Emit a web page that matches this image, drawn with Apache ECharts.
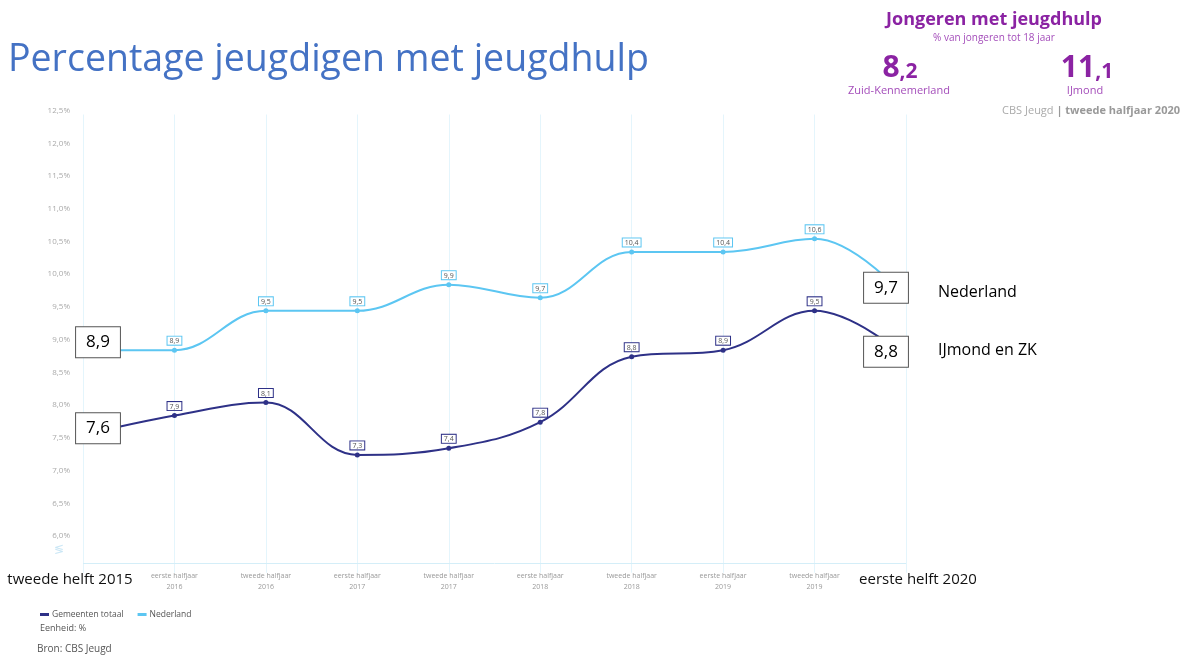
<!DOCTYPE html>
<html>
<head>
<meta charset="utf-8">
<script src="https://cdn.jsdelivr.net/npm/echarts@6/dist/echarts.min.js"></script>
<style>
html, body { margin: 0; padding: 0; background: #fff; }
#chart { width: 1189px; height: 656px; }
</style>
</head>
<body>
<div id="chart"></div>
<script>
// categorieen (halfjaren)
const categories = [
	'tweede helft 2015',
	'eerste halfjaar\n2016', 'tweede halfjaar\n2016',
	'eerste halfjaar\n2017', 'tweede halfjaar\n2017',
	'eerste halfjaar\n2018', 'tweede halfjaar\n2018',
	'eerste halfjaar\n2019', 'tweede halfjaar\n2019',
	'eerste helft 2020'
];
const nederland = [8.9, 8.9, 9.5, 9.5, 9.9, 9.7, 10.4, 10.4, 10.6, 9.7];
const gemeenten = [7.6, 7.9, 8.1, 7.3, 7.4, 7.8, 8.8, 8.9, 9.5, 8.8];
const yTicks = ['6,0%', '6,5%', '7,0%', '7,5%', '8,0%', '8,5%', '9,0%', '9,5%', '10,0%', '10,5%', '11,0%', '11,5%', '12,0%', '12,5%'];

const colNL = '#5cc6f2';
const colGem = '#2e3187';

const chart = echarts.init(document.getElementById('chart'));

function fmt(v) {
	return String(v).replace('.', ',');
}

// eerste en laatste punt krijgen een groot kader, de rest een klein label
function buildData(values, color, offFirst, offLast) {
	return values.map((v, i) => {
		if (i === 0 || i === values.length - 1) {
			return {
				value: v,
				symbolSize: 0,
				label: {
					show: true,
					position: 'inside',
					offset: i === 0 ? offFirst : offLast,
					formatter: fmt(v),
					fontSize: 17,
					fontFamily: 'Open Sans',
					color: '#000',
					backgroundColor: '#fff',
					borderColor: '#555',
					borderWidth: 1,
					padding: [7, 10, 6, 10]
				}
			};
		}
		return {
			value: v,
			label: {
				show: true,
				position: 'top',
				distance: 3,
				formatter: fmt(v),
				fontSize: 7,
				fontFamily: 'Open Sans',
				color: '#555',
				backgroundColor: '#fff',
				borderColor: color,
				borderWidth: 1,
				padding: [1, 2, 0, 2]
			}
		};
	});
}

const option = {
	animation: false,
	grid: { left: 83, right: 283, top: 114.5, bottom: 83.3 },
	legend: {
		left: 35,
		top: 605,
		itemWidth: 9,
		itemHeight: 3,
		itemGap: 14,
		icon: 'rect',
		textStyle: { fontSize: 8.5, color: '#555', fontFamily: 'Open Sans', padding: [0, 0, 0, -2] },
		data: ['Gemeenten totaal', 'Nederland']
	},
	xAxis: {
		type: 'category',
		boundaryGap: false,
		data: categories.map((c, i) => {
			if (i === 0) return { value: c, textStyle: { rich: { big: { padding: [0, 26, 0, 0] } } } };
			if (i === categories.length - 1) return { value: c, textStyle: { rich: { big: { padding: [0, 0, 0, 24] } } } };
			return c;
		}),
		axisLine: { show: false },
		axisTick: { show: false },
		splitLine: { show: true, lineStyle: { color: '#e4f5fc', width: 1 } },
		axisLabel: {
			interval: 0,
			margin: -2,
			fontSize: 7,
			lineHeight: 11,
			color: '#999',
			fontFamily: 'Open Sans',
			formatter: (v, i) => (i === 0 || i === categories.length - 1) ? '{big|' + v + '}' : v,
			rich: {
				big: { fontSize: 15, lineHeight: 18, color: '#111', fontFamily: 'Open Sans', fontWeight: 500 }
			}
		}
	},
	yAxis: {
		type: 'value',
		min: 5.5,
		max: 12.5,
		interval: 0.5,
		axisLine: { show: false },
		axisTick: { show: false },
		splitLine: { show: false },
		axisLabel: {
			margin: 13,
			fontSize: 8,
			color: '#aaa',
			verticalAlign: 'bottom',
			fontFamily: 'Open Sans',
			formatter: v => {
				const idx = Math.round((v - 6) / 0.5);
				return idx >= 0 && idx < yTicks.length ? yTicks[idx] : '';
			}
		}
	},
	series: [
		{
			name: 'Gemeenten totaal',
			type: 'line',
			smooth: 0.4,
			symbol: 'circle',
			symbolSize: 5,
			color: colGem,
			lineStyle: { width: 2, color: colGem },
			data: buildData(gemeenten, colGem, [15, -7], [-20, -5]),
			z: 3,
			markLine: {
				silent: true,
				symbol: 'none',
				label: { show: false },
				lineStyle: { color: '#d4eef8', width: 1, type: 'solid' },
				data: [{ yAxis: 5.64 }]
			}
		},
		{
			name: 'Nederland',
			type: 'line',
			smooth: 0.4,
			symbol: 'circle',
			symbolSize: 5,
			color: colNL,
			lineStyle: { width: 2, color: colNL },
			data: buildData(nederland, colNL, [15, -8], [-20, -10]),
			z: 4
		}
	],
	graphic: [
		{
			type: 'text', left: 8, top: 41,
			style: { text: 'Percentage jeugdigen met jeugdhulp', fontSize: 37.5, fontFamily: 'Open Sans', fill: '#4472c4' }
		},
		{
			type: 'text', left: 54, top: 544,
			style: { text: '≶', fontSize: 12, fill: '#c9e6f5' }
		},
		{
			type: 'text', left: 938, top: 284,
			style: { text: 'Nederland', fontSize: 16, fontFamily: 'Open Sans', fill: '#000' }
		},
		{
			type: 'text', left: 938, top: 342,
			style: { text: 'IJmond en ZK', fontSize: 16, fontFamily: 'Open Sans', fill: '#000' }
		},
		{
			type: 'text', x: 994, y: 20,
			style: { text: 'Jongeren met jeugdhulp', fontSize: 18, fontWeight: 'bold', fontFamily: 'Open Sans', fill: '#8b23a3', align: 'center', verticalAlign: 'middle' }
		},
		{
			type: 'text', x: 994, y: 38,
			style: { text: '% van jongeren tot 18 jaar', fontSize: 10, fontFamily: 'Open Sans', fill: '#a44dba', align: 'center', verticalAlign: 'middle' }
		},
		{
			type: 'text', x: 900, y: 68,
			style: {
				text: '{a|8}{b|,2}', align: 'center', verticalAlign: 'middle',
				rich: {
					a: { fontSize: 30, fontWeight: 'bold', fontFamily: 'Open Sans', fill: '#8b23a3' },
					b: { fontSize: 21, fontWeight: 'bold', fontFamily: 'Open Sans', fill: '#8b23a3', padding: [8, 0, 0, 0] }
				}
			}
		},
		{
			type: 'text', x: 1087, y: 68,
			style: {
				text: '{a|11}{b|,1}', align: 'center', verticalAlign: 'middle',
				rich: {
					a: { fontSize: 30, fontWeight: 'bold', fontFamily: 'Open Sans', fill: '#8b23a3' },
					b: { fontSize: 21, fontWeight: 'bold', fontFamily: 'Open Sans', fill: '#8b23a3', padding: [8, 0, 0, 0] }
				}
			}
		},
		{
			type: 'text', x: 899, y: 91,
			style: { text: 'Zuid-Kennemerland', fontSize: 11, fontFamily: 'Open Sans', fill: '#a44dba', align: 'center', verticalAlign: 'middle' }
		},
		{
			type: 'text', x: 1085, y: 91,
			style: { text: 'IJmond', fontSize: 11, fontFamily: 'Open Sans', fill: '#a44dba', align: 'center', verticalAlign: 'middle' }
		},
		{
			type: 'text', x: 1180, y: 111,
			style: {
				text: '{n|CBS Jeugd }{b|| tweede halfjaar 2020}', align: 'right', verticalAlign: 'middle',
				rich: {
					n: { fontSize: 11, fontFamily: 'Open Sans', fill: '#aaa' },
					b: { fontSize: 11, fontWeight: 'bold', fontFamily: 'Open Sans', fill: '#999' }
				}
			}
		},
		{
			type: 'text', left: 40, top: 624,
			style: { text: 'Eenheid: %', fontSize: 9, fontFamily: 'Open Sans', fill: '#555' }
		},
		{
			type: 'text', left: 37, top: 644,
			style: { text: 'Bron: CBS Jeugd', fontSize: 10, fontFamily: 'Open Sans', fill: '#555' }
		}
	]
};

chart.setOption(option);
window.addEventListener('resize', () => {
	if (chart) {
		chart.resize();
	}
});
</script>
</body>
</html>
